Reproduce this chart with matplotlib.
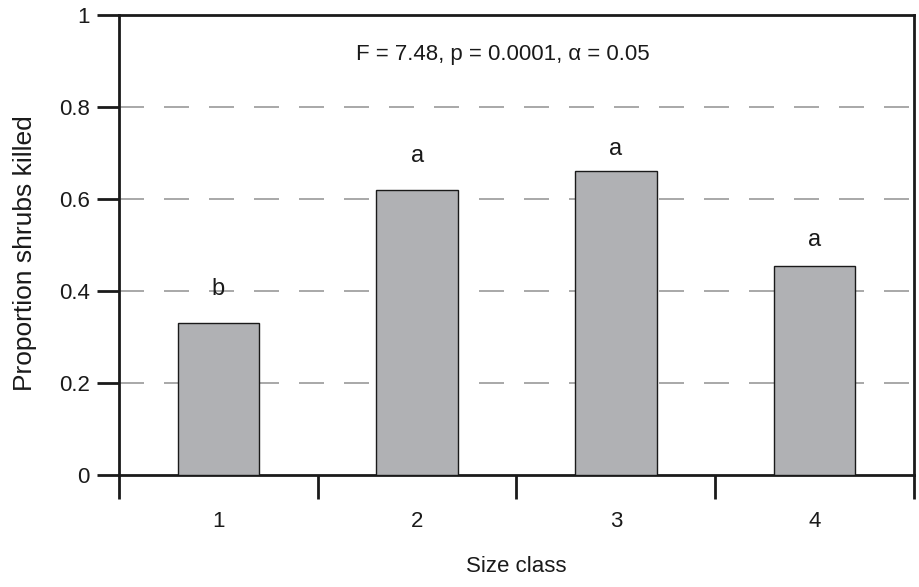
import matplotlib
matplotlib.use("Agg")
import matplotlib.pyplot as plt
from matplotlib.ticker import FixedLocator, NullFormatter

plt.rcParams['font.family'] = ['Liberation Sans', 'DejaVu Sans']

size_classes = ['1', '2', '3', '4']
proportion_killed = [0.330, 0.620, 0.661, 0.454]
group_letters = ['b', 'a', 'a', 'a']
letter_heights = [0.391, 0.680, 0.696, 0.498]
y_ticks = [0, 0.2, 0.4, 0.6, 0.8, 1]
y_tick_labels = ['0', '0.2', '0.4', '0.6', '0.8', '1']
stats_text = 'F = 7.48, p = 0.0001, α = 0.05'

fig = plt.figure(figsize=(9.2, 5.87), dpi=100)
ax = fig.add_axes([119/920, 1 - 475/587, (914-119)/920, (475-15)/587])

pos = list(range(1, len(size_classes) + 1))
ax.bar(pos, proportion_killed, width=0.41, color='#b0b1b4', edgecolor='#1a1a1a',
       linewidth=1.0, zorder=3)

for p, h, l in zip(pos, letter_heights, group_letters):
    ax.text(p, h, l, ha='center', va='baseline', fontsize=17, color='#1a1a1a')

ax.set_xlim(0.5, 4.5)
ax.set_ylim(0, 1)
ax.set_yticks(y_ticks)
ax.set_yticklabels(y_tick_labels)
ax.set_xticks([0.5, 1.5, 2.5, 3.5, 4.5])
ax.xaxis.set_major_formatter(NullFormatter())
ax.xaxis.set_minor_locator(FixedLocator(pos))
ax.set_xticklabels(size_classes, minor=True)
ax.tick_params(axis='x', which='minor', length=0, pad=26, labelsize=16, colors='#1a1a1a')
ax.tick_params(axis='x', which='major', length=17, width=2, direction='out', color='#1a1a1a')
ax.tick_params(axis='y', length=16, width=2, direction='out', labelsize=16, pad=5,
               color='#1a1a1a', labelcolor='#1a1a1a')

for s in ax.spines.values():
    s.set_linewidth(2)
    s.set_color('#1a1a1a')

for y in y_ticks[1:-1]:
    ax.axhline(y, color='#999999', linewidth=1.2, dashes=(15, 12), zorder=1)

ax.text(2.43, 0.915, stats_text, ha='center', va='center', fontsize=16, color='#1a1a1a')

ax.set_xlabel('Size class', fontsize=16, labelpad=17, color='#1a1a1a')
ax.set_ylabel('Proportion shrubs killed', fontsize=19, color='#1a1a1a')
ax.yaxis.set_label_coords(-0.103, 0.483)

fig.savefig('out.png', dpi=100)
